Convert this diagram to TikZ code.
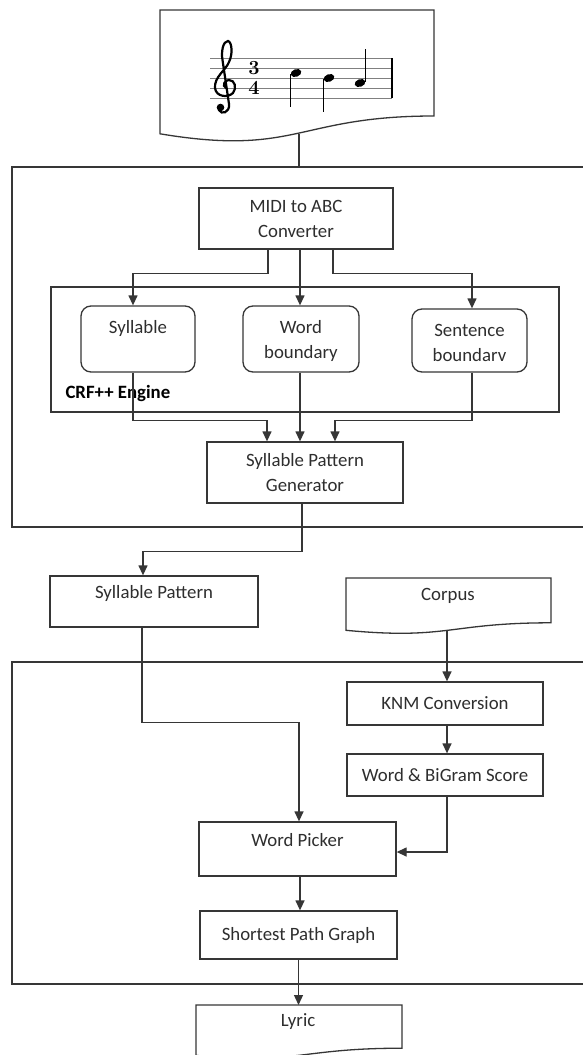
\documentclass[tikz,border=0pt]{standalone}
\usepackage{fontspec}
\newfontfamily\carl{Carlito}
\usetikzlibrary{arrows.meta}
\definecolor{ln}{HTML}{363636}
\definecolor{tx}{HTML}{2E2E2E}
\begin{document}
\begin{tikzpicture}[x=1pt,y=-1pt,
  every node/.style={font=\carl\fontsize{18.8}{25}\selectfont, text=tx},
  box/.style={draw=ln, line width=1.3pt, rectangle, inner sep=0pt, align=center},
  rbox/.style={box, rounded corners=10pt},
  conn/.style={draw=ln, line width=1.3pt},
  arr/.style={conn, -{Triangle[width=9pt,length=10pt]}},
  docline/.style={draw=ln, line width=1.3pt, fill=white}
  ]
\useasboundingbox (0,0) rectangle (583,1055);
\fill[white] (0,0) rectangle (583,1055);

% containers
\draw[conn] (12,167) rectangle (600,527);
\draw[conn] (12,662) rectangle (600,984);
\coordinate (boxtop) at (299,167);

% top document with music
\draw[docline] (160,10) -- (434,10) -- (434,116) .. controls (297,116) and (297,156.7) .. (160,133.8) -- cycle;
\coordinate (docB) at (299,133.5);
\foreach \y in {58,68,78,88,98} \draw[gray, line width=0.8pt] (210,\y) -- (392,\y);
\draw[black, line width=2pt] (392,58) -- (392,98);
\draw[black, line width=2.2pt, line cap=round]
  (226,88) .. controls (222,86) and (224,80) .. (229,80)
  .. controls (235,80) and (237,88) .. (233,93)
  .. controls (228,98) and (216,97) .. (215,88)
  .. controls (214,77) and (226,70) .. (229,62)
  .. controls (233,54) and (232,42) .. (228,41)
  .. controls (223,41) and (221,52) .. (222.5,60)
  -- (229,104) .. controls (230,113) and (221,115) .. (219,110);
\fill[black] (220.5,107.5) circle (3.8pt);
\node[font=\rmfamily\bfseries\fontsize{20}{20}\selectfont, text=black] (tsa) at (254,68) {3};
\node[font=\rmfamily\bfseries\fontsize{20}{20}\selectfont, text=black] (tsb) at (254,88) {4};
\fill[black] (296,73) ellipse [x radius=5.5pt, y radius=3.8pt, rotate=20];
\draw[black, line width=1pt] (290.8,74) -- (290.8,107);
\fill[black] (329,78) ellipse [x radius=5.5pt, y radius=3.8pt, rotate=20];
\draw[black, line width=1pt] (323.8,79) -- (323.8,112);
\fill[black] (360,83) ellipse [x radius=5.5pt, y radius=3.8pt, rotate=20];
\draw[black, line width=1pt] (365.2,82) -- (365.2,49);

% upper section
\node[box, minimum width=194, minimum height=61] (midi) at (296,218.5) {MIDI to ABC\\Converter};
\node[box, minimum width=508, minimum height=125] (crf) at (305,349.5) {};
\node[anchor=west, font=\carl\bfseries\fontsize{18.8}{25}\selectfont, text=black] (crflabel) at (62,393) {CRF++ Engine};
\node[rbox, minimum width=114, minimum height=66] (syl) at (138,339) {};
\path (syl.center) ++(0,-11) node (syltext) {Syllable};
\node[rbox, minimum width=116, minimum height=66] (word) at (301,339) {};
\path (word.center) ++(0,2) node[align=center] (wordtext) {Word\\boundary};
\node[rbox, minimum width=115, minimum height=63] (sent) at (469.5,340.5) {};
\path (sent.center) ++(0,2) node[align=center] (senttext) {Sentence\\boundarv};
\node[box, minimum width=196, minimum height=61] (spg) at (305,472.5) {Syllable Pattern\\Generator};

\draw[arr] ([xshift=-28pt]midi.south) -- ++(0,24) -| ([xshift=-5pt]syl.north);
\draw[arr] ([xshift=-1pt]word.north |- midi.south) -- ([xshift=-1pt]word.north);
\draw[arr] ([xshift=37pt]midi.south) -- ++(0,24) -| ([xshift=2.5pt]sent.north);
\draw[arr] ([xshift=-5pt]syl.south) -- ++(0,48) -| ([xshift=-38pt]spg.north);
\draw[arr] ([xshift=-1pt]word.south) -- ([xshift=-1pt]word.south |- spg.north);
\draw[arr] ([xshift=2.5pt]sent.south) -- ++(0,48) -| ([xshift=30pt]spg.north);
\draw[conn] (docB) -- (boxtop);

% middle
\node[box, minimum width=208, minimum height=51] (sp) at (154,601.5) {};
\path (sp.center) ++(0,-8.5) node (sptext) {Syllable Pattern};
\draw[docline] (346,578) -- (551,578) -- (551,622.8) .. controls (448.5,622.8) and (448.5,640) .. (346,630.3) -- cycle;
\node (corpus) at (448,596) {Corpus};
\coordinate (corpusB) at (447,630);
\draw[arr] ([xshift=-3pt]spg.south) -- ++(0,48) -| ([xshift=-11pt]sp.north);

% lower section
\node[box, minimum width=196, minimum height=43] (knm) at (445,703.5) {KNM Conversion};
\node[box, minimum width=196, minimum height=42] (wb) at (445,775) {Word \& BiGram Score};
\node[box, minimum width=197, minimum height=54] (wp) at (297.5,849) {};
\path (wp.center) ++(0,-9) node (wptext) {Word Picker};
\node[box, minimum width=197, minimum height=48] (short) at (298.5,935) {Shortest Path Graph};
\draw[docline] (196,1005) -- (402,1005) -- (402,1048.2) .. controls (299,1048.2) and (299,1064.8) .. (196,1055.4) -- cycle;
\node (lyric) at (298,1022) {Lyric};
\coordinate (lyricT) at (298.5,1005);

\draw[arr] (corpusB) -- ([xshift=2pt]knm.north);
\draw[arr] ([xshift=2pt]knm.south) -- ([xshift=2pt]wb.north);
\draw[arr] ([xshift=-12pt]sp.south) -- ++(0,95) -| ([xshift=1.5pt]wp.north);
\draw[arr] ([xshift=2pt]wb.south) |- ([yshift=-3pt]wp.east);
\draw[arr] ([xshift=2.5pt]wp.south) -- ([xshift=2.5pt]wp.south |- short.north);
\draw[arr] (short.south) -- (short.south |- lyricT);
\end{tikzpicture}
\end{document}
